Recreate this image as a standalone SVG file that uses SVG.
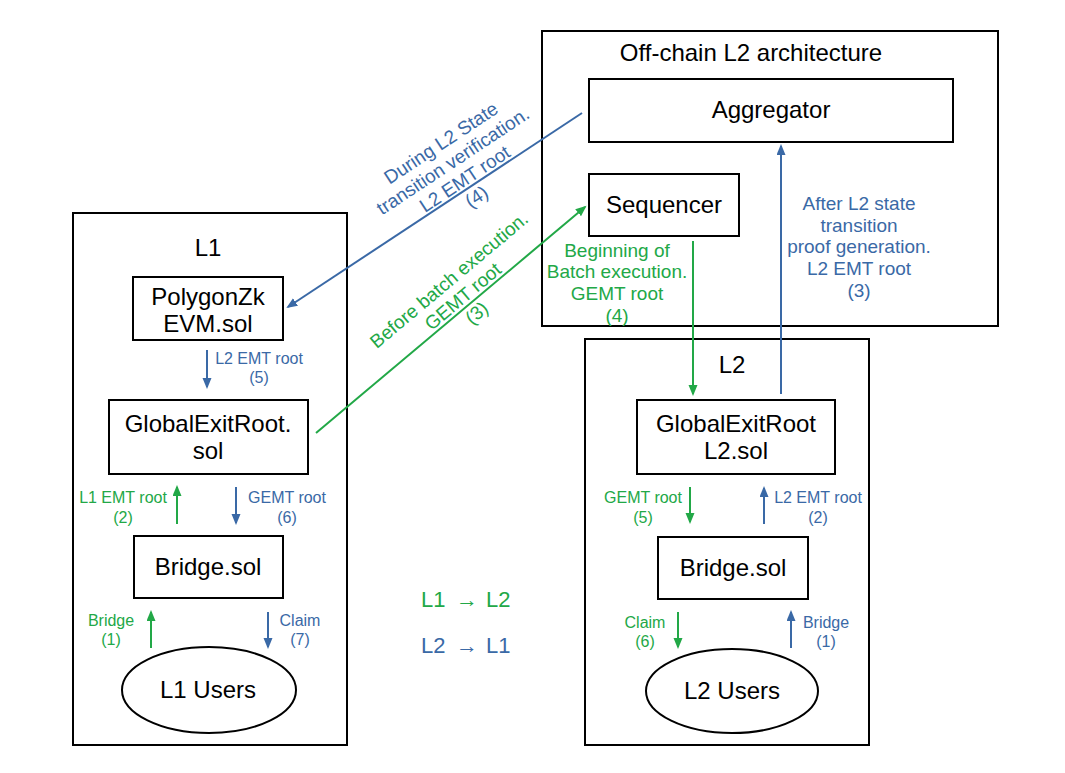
<svg xmlns="http://www.w3.org/2000/svg" width="1065" height="773" viewBox="0 0 1065 773">
<style>
text{font-family:"Liberation Sans",Arial,sans-serif;}
.box{fill:#fff;stroke:#000;stroke-width:2;}
.cont{fill:none;stroke:#000;stroke-width:2;}
.big{font-size:24px;fill:#000;text-anchor:middle;}
.sm{font-size:16px;text-anchor:middle;}
.md{font-size:19px;text-anchor:middle;}
.g{fill:#22a847;}
.b{fill:#3a69a6;}
.lg{stroke:#22a847;stroke-width:2;fill:none;marker-end:url(#ag);}
.lb{stroke:#3a69a6;stroke-width:2;fill:none;marker-end:url(#ab);}
</style>
<defs>
<marker id="ag" markerUnits="userSpaceOnUse" markerWidth="12" markerHeight="10" refX="9" refY="4.5" orient="auto"><path d="M0,0 L11,4.5 L0,9 z" fill="#22a847"/></marker>
<marker id="ab" markerUnits="userSpaceOnUse" markerWidth="12" markerHeight="10" refX="9" refY="4.5" orient="auto"><path d="M0,0 L11,4.5 L0,9 z" fill="#3a69a6"/></marker>
</defs>
<rect width="1065" height="773" fill="#fff"/>

<g id="offchain">
<rect class="cont" x="542" y="31" width="456" height="295"/>
<text class="big" x="751" y="61">Off-chain L2 architecture</text>
</g>
<g id="l1">
<rect class="cont" x="73" y="213" width="274" height="532"/>
<text class="big" x="208" y="256">L1</text>
</g>
<g id="l2">
<rect class="cont" x="585" y="339" width="284" height="406"/>
<text class="big" x="732" y="373">L2</text>
</g>

<g id="aggregator">
<rect class="box" x="589" y="79" width="364" height="63"/>
<text class="big" x="771" y="118">Aggregator</text>
</g>
<g id="sequencer">
<rect class="box" x="589" y="174" width="150" height="62"/>
<text class="big" x="664" y="213">Sequencer</text>
</g>
<g id="polygonzkevm">
<rect class="box" x="133" y="277" width="150" height="63"/>
<text class="big" x="208" y="305">PolygonZk</text>
<text class="big" x="208" y="332">EVM.sol</text>
</g>
<g id="globalexitroot-l1">
<rect class="box" x="109" y="400" width="199" height="74"/>
<text class="big" x="208" y="432">GlobalExitRoot.</text>
<text class="big" x="208" y="459">sol</text>
</g>
<g id="bridge-l1">
<rect class="box" x="134" y="536" width="149" height="62"/>
<text class="big" x="208" y="575">Bridge.sol</text>
</g>
<g id="l1-users">
<ellipse class="box" cx="209" cy="690" rx="87" ry="43"/>
<text class="big" x="208" y="698">L1 Users</text>
</g>
<g id="globalexitroot-l2">
<rect class="box" x="637" y="400" width="198" height="74"/>
<text class="big" x="736" y="432">GlobalExitRoot</text>
<text class="big" x="736" y="459">L2.sol</text>
</g>
<g id="bridge-l2">
<rect class="box" x="658" y="537" width="150" height="62"/>
<text class="big" x="733" y="576">Bridge.sol</text>
</g>
<g id="l2-users">
<ellipse class="box" cx="732" cy="691" rx="86" ry="42"/>
<text class="big" x="732" y="699">L2 Users</text>
</g>

<g id="connectors">
<line class="lb" x1="582" y1="113" x2="288" y2="307"/>
<line class="lg" x1="316" y1="433" x2="585" y2="207"/>
<line class="lg" x1="693" y1="241" x2="693" y2="394"/>
<line class="lb" x1="781" y1="394" x2="781" y2="146"/>
<line class="lb" x1="207" y1="350" x2="207" y2="387"/>
<line class="lg" x1="177" y1="524" x2="177" y2="487"/>
<line class="lb" x1="236" y1="487" x2="236" y2="523"/>
<line class="lg" x1="151" y1="648" x2="151" y2="612"/>
<line class="lb" x1="268" y1="612" x2="268" y2="647"/>
<line class="lg" x1="690" y1="487" x2="690" y2="522"/>
<line class="lb" x1="764" y1="524" x2="764" y2="488"/>
<line class="lg" x1="678" y1="612" x2="678" y2="647"/>
<line class="lb" x1="791" y1="648" x2="791" y2="612"/>
</g>

<g id="labels">
<g transform="translate(441,143) rotate(-33.5)">
<text class="md b" x="0" y="6.5">During L2 State</text>
<text class="md b" x="0" y="28">transition verification.</text>
<text class="md b" x="0" y="49.5">L2 EMT root</text>
<text class="md b" x="0" y="71">(4)</text>
</g>
<g transform="translate(449,280) rotate(-40)">
<text class="md g" x="0" y="6.5">Before batch execution.</text>
<text class="md g" x="0" y="28">GEMT root</text>
<text class="md g" x="0" y="49.5">(3)</text>
</g>
<text class="md g" x="617" y="257">Beginning of</text>
<text class="md g" x="617" y="278">Batch execution.</text>
<text class="md g" x="617" y="300">GEMT root</text>
<text class="md g" x="617" y="322">(4)</text>
<text class="md b" x="859" y="210">After L2 state</text>
<text class="md b" x="859" y="232">transition</text>
<text class="md b" x="859" y="253">proof generation.</text>
<text class="md b" x="859" y="275">L2 EMT root</text>
<text class="md b" x="859" y="297">(3)</text>

<text class="sm b" x="259" y="364">L2 EMT root</text>
<text class="sm b" x="259" y="383">(5)</text>
<text class="sm g" x="123" y="503">L1 EMT root</text>
<text class="sm g" x="123" y="523">(2)</text>
<text class="sm b" x="287" y="503">GEMT root</text>
<text class="sm b" x="287" y="523">(6)</text>
<text class="sm g" x="111" y="626">Bridge</text>
<text class="sm g" x="111" y="645">(1)</text>
<text class="sm b" x="300" y="626">Claim</text>
<text class="sm b" x="300" y="645">(7)</text>

<text class="sm g" x="643" y="503">GEMT root</text>
<text class="sm g" x="643" y="523">(5)</text>
<text class="sm b" x="818" y="503">L2 EMT root</text>
<text class="sm b" x="818" y="523">(2)</text>
<text class="sm g" x="645" y="628">Claim</text>
<text class="sm g" x="645" y="647">(6)</text>
<text class="sm b" x="826" y="628">Bridge</text>
<text class="sm b" x="826" y="647">(1)</text>

<text class="g" font-size="22" y="607"><tspan x="421">L1</tspan><tspan x="456" font-size="22">→</tspan><tspan x="486">L2</tspan></text>
<text class="b" font-size="22" y="653"><tspan x="421">L2</tspan><tspan x="456" font-size="22">→</tspan><tspan x="486">L1</tspan></text>
</g>
</svg>
